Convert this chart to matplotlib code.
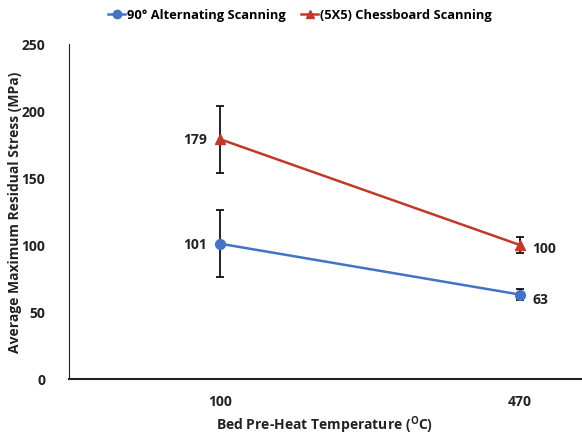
import matplotlib
matplotlib.use("Agg")
import matplotlib.pyplot as plt
from matplotlib.lines import Line2D

plt.rcParams['font.family'] = ['Open Sans', 'DejaVu Sans']
plt.rcParams['mathtext.fontset'] = 'custom'
plt.rcParams['mathtext.rm'] = 'Open Sans:bold'
plt.rcParams['mathtext.bf'] = 'Open Sans:bold'
plt.rcParams['mathtext.default'] = 'rm'

categories = ["100", "470"]
alt_values = [101, 63]
alt_err = [25, 4]
chess_values = [179, 100]
chess_err = [25, 6]
yticks = [0, 50, 100, 150, 200, 250]

TXT = '#222222'
FS = 10

fig = plt.figure(figsize=(5.82, 4.39), dpi=100)
ax = fig.add_axes([69/582, 1-380/439, (582-69)/582, (380-45)/439])

x = list(range(len(categories)))
blue = "#4472C4"
red = "#C0392B"
ax.errorbar(x, alt_values, yerr=alt_err, color=blue, marker='o', markersize=7,
            lw=1.8, ecolor='#111111', elinewidth=1.3, capsize=3, capthick=1.3, zorder=3)
ax.errorbar(x, chess_values, yerr=chess_err, color=red, marker='^', markersize=7,
            lw=1.8, ecolor='#111111', elinewidth=1.3, capsize=3, capthick=1.3, zorder=3)

ax.set_xlim(-0.503, 1.207)
ax.set_ylim(0, 250)
ax.set_xticks(x)
ax.set_xticklabels(categories)
ax.set_yticks(yticks)
ax.tick_params(axis='y', length=0, labelsize=FS, colors=TXT, pad=17)
ax.tick_params(axis='x', length=0, labelsize=FS, colors=TXT, pad=11)
for lbl in ax.get_xticklabels() + ax.get_yticklabels():
    lbl.set_fontweight('bold')
ax.spines['top'].set_visible(False)
ax.spines['right'].set_visible(False)
ax.spines['left'].set_color(TXT)
ax.spines['bottom'].set_color(TXT)
ax.spines['bottom'].set_linewidth(1.5)

def lab(xi, yi, s, dx, dy, ha):
    ax.annotate(s, (xi, yi), xytext=(dx, dy), textcoords='offset points',
                ha=ha, va='center', fontsize=FS, fontweight='bold', color=TXT)

lab(x[0], chess_values[0], f"{chess_values[0]}", -9, 0, 'right')
lab(x[0], alt_values[0], f"{alt_values[0]}", -9, 0, 'right')
lab(x[1], chess_values[1], f"{chess_values[1]}", 9, -2, 'left')
lab(x[1], alt_values[1], f"{alt_values[1]}", 9, -3, 'left')

fig.text(325/582, 1-425/439, "Bed Pre-Heat Temperature ($^{\\mathbf{O}}$C)", ha='center', va='center',
         fontsize=FS, fontweight='bold', color=TXT)
fig.text(15/582, 1-212/439, "Average Maximum Residual Stress (MPa)", ha='center', va='center',
         rotation=90, fontsize=FS, fontweight='bold', color=TXT)

handles = [Line2D([], [], color=blue, marker='o', markersize=6, lw=1.8),
           Line2D([], [], color=red, marker='^', markersize=6, lw=1.8)]
labels = ["90° Alternating Scanning", "(5X5) Chessboard Scanning"]
fig.legend(handles, labels, loc='center', bbox_to_anchor=(300/582, 1-16/439), ncol=2, frameon=False,
           handlelength=1.3, columnspacing=1.2, handletextpad=0.15,
           prop={'family': ['Open Sans', 'DejaVu Sans'], 'weight': 'bold', 'size': 9.3})

fig.savefig("out.png", dpi=100)
